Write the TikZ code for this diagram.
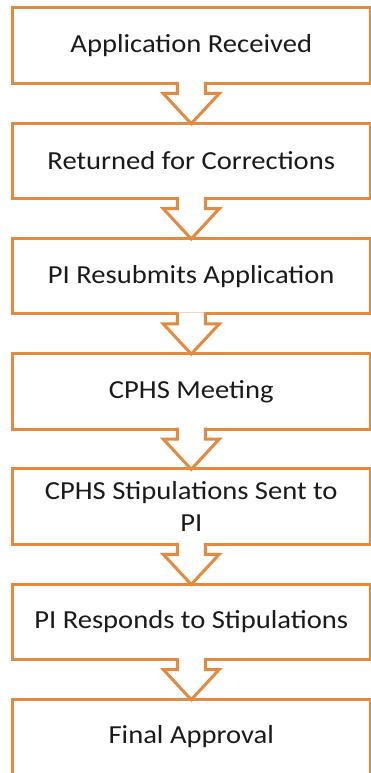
\documentclass[tikz,border=0pt]{standalone}
\usepackage{fontspec}
\setmainfont{Carlito}[FakeStretch=1.1]
\usepackage{tikz}
\usetikzlibrary{calc}
\definecolor{cphs-orange}{HTML}{E38A3E}
\definecolor{cphs-ink}{HTML}{1A1A1A}

\begin{document}
\begin{tikzpicture}[x=1pt, y=-1pt, line join=miter,
    stepbox/.style={draw=cphs-orange, line width=3pt, fill=white, rectangle,
      minimum width=357.5pt, minimum height=75.5pt, outer sep=0pt, inner sep=2pt,
      text=cphs-ink, align=center, font=\fontsize{26}{31.7}\selectfont},
    flow/.style={draw=cphs-orange, line width=3pt, fill=white}]
  \useasboundingbox (0,0) rectangle (370,773);
  \node[stepbox] (app)   at (191.25,45.75)  {Application Received};
  \node[stepbox] (ret)   at (191.25,160.95) {Returned for Corrections};
  \node[stepbox] (resub) at (191.25,276.15) {PI Resubmits Application};
  \node[stepbox] (meet)  at (191.25,391.35) {CPHS Meeting};
  \node[stepbox] (stip)  at (191.25,506.55) {CPHS Stipulations Sent to\\PI};
  \node[stepbox] (resp)  at (191.25,621.75) {PI Responds to Stipulations};
  \node[stepbox] (final) at (191.25,736.95) {Final Approval};
  % hollow block arrows between the steps
  \foreach \a/\b in {app/ret, ret/resub, resub/meet, meet/stip, stip/resp, resp/final}
    \filldraw[flow] ($(\a.south)+(-14,-1.5)$) -- ++(0,11.5) -- ++(-14,0)
      -- ($(\b.north)+(0,0.5)$) -- ($(\a.south)+(28,10)$) -- ++(-14,0) -- ++(0,-11.5);
\end{tikzpicture}
\end{document}
